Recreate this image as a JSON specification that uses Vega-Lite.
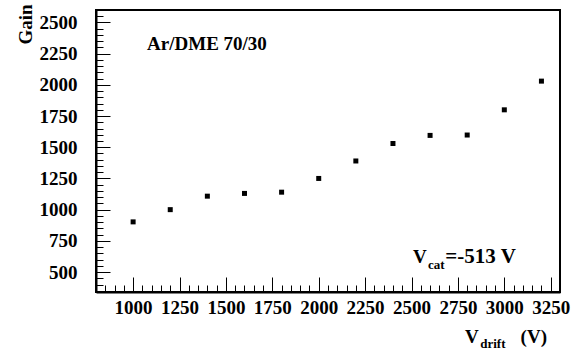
{
  "$schema": "https://vega.github.io/schema/vega-lite/v6.json",
  "autosize": "none",
  "width": 464,
  "height": 282,
  "padding": {"left": 96, "top": 10, "right": 11, "bottom": 58},
  "background": "white",
  "config": {
    "font": "Liberation Serif",
    "view": {"stroke": "black", "strokeWidth": 2},
    "axis": {
      "domainColor": "black", "domainWidth": 2,
      "tickColor": "black", "tickWidth": 1,
      "labelFont": "Liberation Serif", "labelFontWeight": "bold", "labelFontSize": 19, "labelColor": "black",
      "titleFont": "Liberation Serif", "titleFontWeight": "bold", "titleFontSize": 19, "titleColor": "black",
      "grid": false, "labelOverlap": false, "labelBound": false, "labelFlush": false
    }
  },
  "resolve": {"axis": {"x": "independent", "y": "independent"}},
  "data": {"values": [
    {"Vdrift": 1000, "Gain": 902},
    {"Vdrift": 1200, "Gain": 1000},
    {"Vdrift": 1400, "Gain": 1108},
    {"Vdrift": 1600, "Gain": 1130},
    {"Vdrift": 1800, "Gain": 1140},
    {"Vdrift": 2000, "Gain": 1250},
    {"Vdrift": 2200, "Gain": 1390},
    {"Vdrift": 2400, "Gain": 1530},
    {"Vdrift": 2600, "Gain": 1595},
    {"Vdrift": 2800, "Gain": 1598},
    {"Vdrift": 3000, "Gain": 1800},
    {"Vdrift": 3200, "Gain": 2030}
  ]},
  "layer": [
    {
      "mark": {"type": "square", "filled": true, "color": "black", "size": 25, "opacity": 1},
      "encoding": {
        "x": {
          "field": "Vdrift", "type": "quantitative",
          "scale": {"domain": [800, 3300], "nice": false, "zero": false},
          "axis": {
            "orient": "bottom", "title": null, "format": "d", "ticks": false, "labelOverlap": false,
            "values": [1000, 1250, 1500, 1750, 2000, 2250, 2500, 2750, 3000, 3250],
            "labelPadding": 6
          }
        },
        "y": {
          "field": "Gain", "type": "quantitative",
          "scale": {"domain": [340, 2600], "nice": false, "zero": false},
          "axis": {
            "orient": "left", "title": "Gain", "format": "d", "ticks": false, "labelOverlap": false,
            "titleAngle": -90, "titleX": -71, "titleY": 14, "titleAlign": "center", "titleBaseline": "middle",
            "values": [500, 750, 1000, 1250, 1500, 1750, 2000, 2250, 2500],
            "labelPadding": 19
          }
        }
      }
    },
    {
      "data": {"values": [{}]},
      "mark": {"type": "text", "text": "Ar/DME 70/30", "align": "left", "baseline": "alphabetic", "fontSize": 19, "fontWeight": "bold", "font": "Liberation Serif", "color": "black"},
      "encoding": {
        "x": {"datum": 1075, "type": "quantitative", "axis": {"orient": "bottom", "title": null, "labels": false, "domain": false, "tickSize": -15, "values": [1000, 1250, 1500, 1750, 2000, 2250, 2500, 2750, 3000, 3250]}},
        "y": {"datum": 2281, "type": "quantitative", "axis": {"orient": "left", "title": null, "labels": false, "domain": false, "tickSize": -14, "values": [500, 750, 1000, 1250, 1500, 1750, 2000, 2250, 2500]}}
      }
    },
    {
      "data": {"values": [{}]},
      "mark": {"type": "text", "text": "V", "align": "left", "baseline": "alphabetic", "fontSize": 19, "fontWeight": "bold", "font": "Liberation Serif", "color": "black"},
      "encoding": {
        "x": {"datum": 2508, "type": "quantitative", "axis": {"orient": "bottom", "title": null, "labels": false, "domain": false, "tickSize": -7, "values": [850,900,950,1000,1050,1100,1150,1200,1250,1300,1350,1400,1450,1500,1550,1600,1650,1700,1750,1800,1850,1900,1950,2000,2050,2100,2150,2200,2250,2300,2350,2400,2450,2500,2550,2600,2650,2700,2750,2800,2850,2900,2950,3000,3050,3100,3150,3200,3250,3300]}},
        "y": {"datum": 572, "type": "quantitative", "axis": {"orient": "left", "title": null, "labels": false, "domain": false, "tickSize": -7, "values": [350,400,450,500,550,600,650,700,750,800,850,900,950,1000,1050,1100,1150,1200,1250,1300,1350,1400,1450,1500,1550,1600,1650,1700,1750,1800,1850,1900,1950,2000,2050,2100,2150,2200,2250,2300,2350,2400,2450,2500,2550,2600]}}
      }
    },
    {
      "data": {"values": [{}]},
      "mark": {"type": "text", "text": "cat", "align": "left", "baseline": "alphabetic", "fontSize": 13, "fontWeight": "bold", "font": "Liberation Serif", "color": "black"},
      "encoding": {"x": {"datum": 2589, "type": "quantitative", "axis": null}, "y": {"datum": 524, "type": "quantitative", "axis": null}}
    },
    {
      "data": {"values": [{}]},
      "mark": {"type": "text", "text": "=-513  V", "align": "left", "baseline": "alphabetic", "fontSize": 21, "fontWeight": "bold", "font": "Liberation Serif", "color": "black"},
      "encoding": {"x": {"datum": 2682, "type": "quantitative", "axis": null}, "y": {"datum": 572, "type": "quantitative", "axis": null}}
    },
    {
      "data": {"values": [{}]},
      "mark": {"type": "text", "text": "V", "align": "left", "baseline": "alphabetic", "fontSize": 19, "fontWeight": "bold", "font": "Liberation Serif", "color": "black"},
      "encoding": {"x": {"datum": 2788, "type": "quantitative", "axis": null}, "y": {"datum": -68, "type": "quantitative", "axis": null}}
    },
    {
      "data": {"values": [{}]},
      "mark": {"type": "text", "text": "drift", "align": "left", "baseline": "alphabetic", "fontSize": 13, "fontWeight": "bold", "font": "Liberation Serif", "color": "black"},
      "encoding": {"x": {"datum": 2870, "type": "quantitative", "axis": null}, "y": {"datum": -108, "type": "quantitative", "axis": null}}
    },
    {
      "data": {"values": [{}]},
      "mark": {"type": "text", "text": "(V)", "align": "right", "baseline": "alphabetic", "fontSize": 19, "fontWeight": "bold", "font": "Liberation Serif", "color": "black"},
      "encoding": {"x": {"datum": 3230, "type": "quantitative", "axis": null}, "y": {"datum": -68, "type": "quantitative", "axis": null}}
    }
  ]
}
